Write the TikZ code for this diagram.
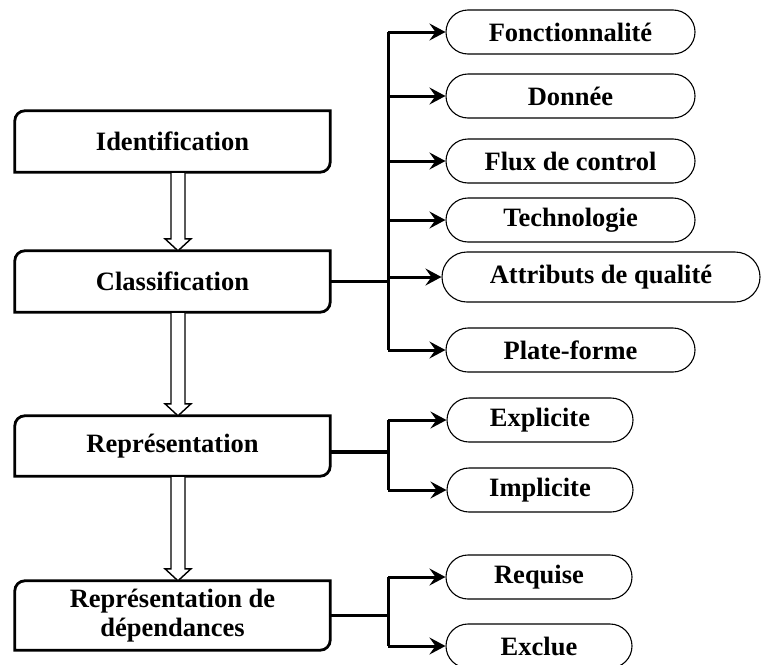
\documentclass[tikz,border=0pt]{standalone}
\usepackage{fontspec}
\setmainfont{Liberation Serif}
\usetikzlibrary{shapes.misc,arrows.meta,calc}
\tikzset{
  every node/.style={font=\fontsize{26.5}{29}\selectfont\bfseries},
  stage/.style={draw=none, minimum width=315pt, align=center, inner sep=0pt},
  item/.style={draw, rounded rectangle, line width=1.1pt, minimum width=249pt, minimum height=44pt, inner sep=0pt},
  conn/.style={line width=3pt},
  arr/.style={conn, -{Stealth[length=16pt,width=17pt,inset=6pt]}},
  hollow/.style={draw, fill=white, line width=1.4pt, line join=miter},
  boxline/.style={line width=2.8pt}
}
\newcommand{\stagebox}[1]{%
  \draw[boxline] ($(#1.north west)+(0,10)$) arc[start angle=180,end angle=90,radius=10pt]
    -- (#1.north east) -- ($(#1.south east)+(0,-10)$)
    arc[start angle=0,end angle=-90,radius=10pt] -- (#1.south west) -- cycle;}
\newcommand{\hollowarr}[2]{%
  \draw[hollow] ($(ax |- #1.south)+(-7,0)$) -- ($(ax |- #2.north)+(-7,-12)$)
    -- ($(ax |- #2.north)+(-13,-12)$) -- (ax |- #2.north)
    -- ($(ax |- #2.north)+(13,-12)$) -- ($(ax |- #2.north)+(7,-12)$)
    -- ($(ax |- #1.south)+(7,0)$) -- cycle;}
\begin{document}
\begin{tikzpicture}[x=1pt,y=-1pt]
\useasboundingbox (0,0) rectangle (762,664);
% stages
\node[stage, minimum height=61pt] (id) at (172.5,141.5) {Identification};
\node[stage, minimum height=61pt] (cls) at (172.5,281.5) {Classification};
\node[stage, minimum height=60pt] (rep) at (172.5,446) {Représentation};
\node[stage, minimum height=69pt] (dep) at (172.5,615.5) {Représentation de\\dépendances};
\stagebox{id}
\stagebox{cls}
\stagebox{rep}
\stagebox{dep}
% hollow arrows
\coordinate (ax) at (178,0);
\hollowarr{id}{cls}
\hollowarr{cls}{rep}
\hollowarr{rep}{dep}
% classification items
\node[item] (f1) at (570.5,32) {Fonctionnalité};
\node[item] (f2) at (570.5,96) {Donnée};
\node[item] (f3) at (570.5,161) {Flux de control};
\node[item] (f4) at (570.5,220) {Technologie};
\node[item, minimum width=318pt, minimum height=50pt] (f5) at (601,277) {Attributs de qualité};
\node[item] (f6) at (570.5,350) {Plate-forme};
% representation items
\node[item, minimum width=186pt] (r1) at (540,420) {Explicite};
\node[item, minimum width=186pt] (r2) at (540,490) {Implicite};
% dependency items
\node[item, minimum width=186pt] (d1) at (539,577) {Requise};
\node[item, minimum width=186pt] (d2) at (539,646) {Exclue};
% connectors
\coordinate (t) at (388,0);
\draw[conn] (cls.east) -- (t |- cls.east);
\draw[conn] (t |- f1.west) -- (t |- f6.west);
\foreach \n in {f1,f2,f3,f4,f5,f6} \draw[arr] (t |- \n.west) -- (\n.west);
\draw[conn, line width=4.2pt] (rep.east) ++(0,6) coordinate (re) -- (t |- re);
\draw[conn] (t |- r1.west) -- (t |- r2.west);
\foreach \n in {r1,r2} \draw[arr] (t |- \n.west) -- (\n.west);
\draw[conn] (dep.east) -- (t |- dep.east);
\draw[conn] (t |- d1.west) -- (t |- d2.west);
\foreach \n in {d1,d2} \draw[arr] (t |- \n.west) -- (\n.west);
\end{tikzpicture}
\end{document}
